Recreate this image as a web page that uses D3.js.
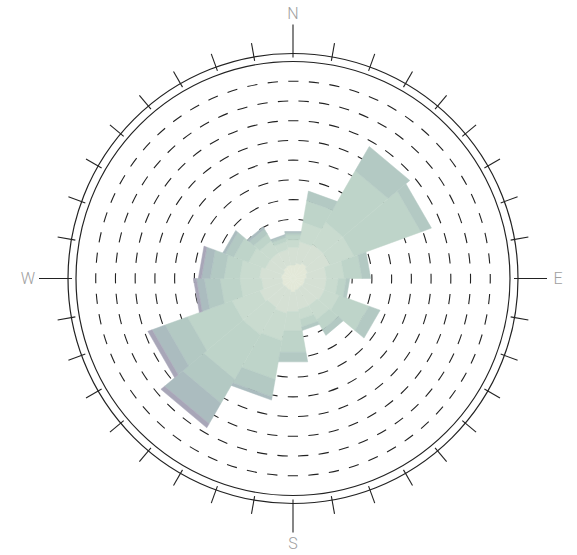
<!DOCTYPE html>
<html>
<head>
<meta charset="utf-8">
<script src="https://cdn.jsdelivr.net/npm/d3@7/dist/d3.min.js"></script>
<style>
  html, body { margin: 0; padding: 0; background: #fff; }
  svg { display: block; }
</style>
</head>
<body>
<svg id="chart" width="577" height="555"></svg>
<script>
// ---- data ----
const directions = [0, 20, 40, 60, 80, 100, 120, 140, 160, 180, 200, 220, 240, 260, 280, 300, 320, 340];
const speedBins = ["0-1", "1-2", "2-3", "3-4", "4-5", "5-6", "6+"];
// frequency (%) per speed bin, one value per direction
const bin0 = [0.7, 0.8, 0.9, 0.8, 0.7, 0.6, 0.6, 0.55, 0.6, 0.7, 0.6, 0.55, 0.6, 0.55, 0.6, 0.55, 0.65, 0.7];
const bin1 = [0.9, 1.1, 1.1, 1.2, 1.0, 1.1, 1.1, 1.05, 1.0, 1.0, 1.2, 1.15, 1.2, 1.05, 1.1, 0.95, 0.85, 0.8];
const bin2 = [0.4, 1.0, 1.3, 1.3, 0.9, 0.6, 0.8, 0.8, 0.5, 1.0, 1.4, 1.6, 1.5, 1.1, 1.0, 0.9, 0.7, 0.4];
const bin3 = [0.25, 1.1, 3.0, 3.6, 0.9, 0.4, 1.6, 0.6, 0.4, 1.1, 2.0, 2.6, 2.4, 1.0, 0.8, 0.8, 0.4, 0.2];
const bin4 = [0.12, 0.5, 1.43, 0.57, 0.44, 0.18, 0.6, 0.33, 0.18, 0.49, 0.9, 1.4, 1.2, 0.8, 0.7, 0.45, 0.3, 0.12];
const bin5 = [0.05, 0, 0, 0, 0, 0, 0, 0, 0, 0, 0.16, 1.2, 0.7, 0.4, 0.45, 0.14, 0.13, 0.05];
const bin6 = [0, 0, 0, 0, 0, 0, 0, 0, 0, 0, 0, 0.24, 0.23, 0.15, 0.15, 0, 0, 0];
const gridValues = [1, 2, 3, 4, 5, 6, 7, 8, 9, 10];
const maxValue = 11;
const compassLabels = ["N", "E", "S", "W"];
const compassAngles = [0, 90, 180, 270];
const tickAngles = d3.range(0, 360, 10);

// ---- styles ----
const colors = ["#e3e8d8", "#d5e0d4", "#c9dbcf", "#bed4c9", "#b3c9c3", "#abbcbf", "#a8a6b8"];
const W = 577, H = 555;
const cx = 293, cy = 278.5;
const innerR = 217, outerRingR = 225;

const bins = [bin0, bin1, bin2, bin3, bin4, bin5, bin6];
const rows = directions.map((d, i) => {
  const o = { dir: d };
  speedBins.forEach((k, j) => o[k] = bins[j][i]);
  return o;
});
const series = d3.stack().keys(speedBins)(rows);

const svg = d3.select("#chart");
const g = svg.append("g").attr("transform", `translate(${cx},${cy})`);

const angle = d3.scaleLinear().domain([0, 360]).range([0, 2 * Math.PI]);
const r = d3.scaleLinear().domain([0, maxValue]).range([0, innerR]);
const half = 360 / directions.length / 2;

// dashed grid rings
gridValues.forEach(v => {
  const rr = r(v);
  const circ = 2 * Math.PI * rr;
  const n = Math.max(4, Math.round(circ / 20.7));
  const period = circ / n;
  g.append("circle")
    .attr("r", rr)
    .attr("fill", "none")
    .attr("stroke", "#222")
    .attr("stroke-width", 1.1)
    .attr("stroke-dasharray", `${period / 2} ${period / 2}`)
    .attr("stroke-dashoffset", period / 4);
});

// wedges
const wedge = d3.lineRadial()
  .angle(p => angle(p[0]))
  .radius(p => r(p[1]))
  .curve(d3.curveLinearClosed);

series.forEach((s, j) => {
  g.append("g").selectAll("path")
    .data(s.filter(d => d[1] - d[0] > 0))
    .join("path")
    .attr("d", d => {
      const a = d.data.dir;
      return wedge([[a - half, d[0]], [a - half, d[1]], [a + half, d[1]], [a + half, d[0]]]);
    })
    .attr("fill", colors[j])
    .attr("stroke", colors[j])
    .attr("stroke-width", 0.5);
});

// rings
[innerR, outerRingR].forEach(rr => {
  g.append("circle")
    .attr("r", rr)
    .attr("fill", "none")
    .attr("stroke", "#222")
    .attr("stroke-width", 1.2);
});

// ticks
const pt = (a, rr) => [Math.sin(angle(a)) * rr, -Math.cos(angle(a)) * rr];
g.append("g").selectAll("line")
  .data(tickAngles)
  .join("line")
  .attr("x1", a => pt(a, 221)[0])
  .attr("y1", a => pt(a, 221)[1])
  .attr("x2", a => pt(a, a % 90 === 0 ? 254 : 239)[0])
  .attr("y2", a => pt(a, a % 90 === 0 ? 254 : 239)[1])
  .attr("stroke", "#222")
  .attr("stroke-width", 1.1);

// compass labels
g.append("g").selectAll("text")
  .data(compassLabels)
  .join("text")
  .attr("x", (t, i) => pt(compassAngles[i], 265)[0])
  .attr("y", (t, i) => pt(compassAngles[i], 265)[1])
  .attr("text-anchor", "middle")
  .attr("dominant-baseline", "central")
  .attr("font-family", "Roboto, 'Open Sans', sans-serif")
  .attr("font-weight", 300)
  .attr("font-size", 16)
  .attr("fill", "#a0a0a0")
  .text(t => t);
</script>
</body>
</html>
